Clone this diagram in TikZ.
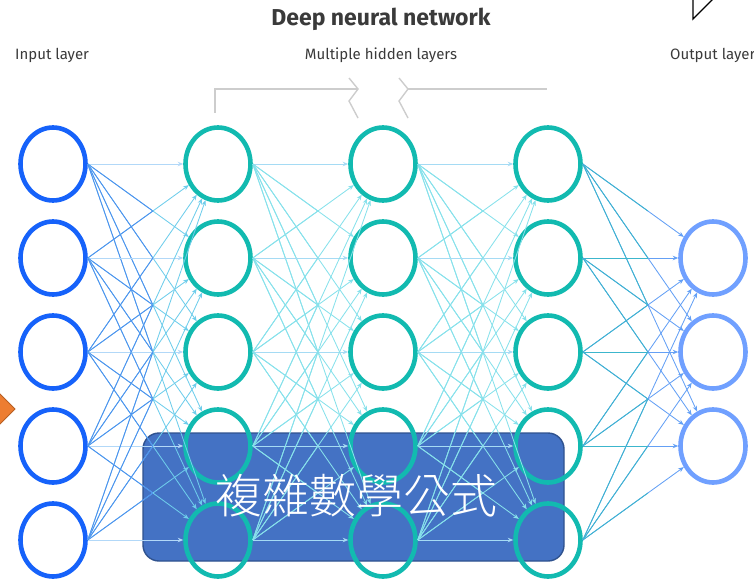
\documentclass[tikz,border=0pt]{standalone}
\usepackage{fontspec}
\setmainfont{Fira Sans}
\newfontfamily\cjk{Noto Sans CJK TC}[UprightFont={* Light}]
\usetikzlibrary{shapes.geometric,arrows.meta,calc}

\definecolor{inblue}{RGB}{22,98,250}
\definecolor{hidteal}{RGB}{18,186,176}
\definecolor{outblue}{RGB}{112,160,255}
\definecolor{edgeA}{RGB}{78,142,240}
\definecolor{edgeAt}{RGB}{110,205,235}
\definecolor{edgeB}{RGB}{135,225,235}
\definecolor{edgeC}{RGB}{60,182,205}
\definecolor{edgeCt}{RGB}{100,160,245}
\definecolor{straight}{RGB}{178,216,248}
\definecolor{labelgray}{RGB}{58,58,58}
\definecolor{bracketgray}{RGB}{205,205,205}
\definecolor{boxblue}{RGB}{68,114,196}
\definecolor{boxedge}{RGB}{47,82,143}
\definecolor{arroworange}{RGB}{237,125,49}
\definecolor{arrowedge}{RGB}{184,95,34}

\tikzset{
  neuron/.style={ellipse, minimum width=65pt, minimum height=73pt, inner sep=0pt, line width=4.6pt},
  inneuron/.style={neuron, draw=inblue},
  hidneuron/.style={neuron, draw=hidteal},
  outneuron/.style={neuron, draw=outblue},
  edge/.style={line width=0.85pt},
  tip/.style={-{Stealth[length=5.5pt,width=4.5pt]}},
  caption/.style={text=labelgray, font=\fontsize{15}{16}\selectfont, inner sep=0pt},
  formulabox/.style={draw=boxedge, fill=boxblue, line width=1.4pt, rounded corners=16pt,
    minimum width=421pt, minimum height=128pt, inner sep=0pt},
  bracket/.style={draw=bracketgray, line width=1.4pt},
}

% edge from source east point to target, two-tone to suggest a colour fade
\newcommand\netedge[4]{%
  \draw[edge,#4,tip] (#1.east) -- (#2);
  \draw[edge,#3] (#1.east) -- ($(#1.east)!0.5!(#2)$);
}

\begin{document}
\begin{tikzpicture}[x=1pt,y=-1pt]
\useasboundingbox (0,0) rectangle (754,583);
\clip (0,0) rectangle (754,583);

% formula box behind the network
\node[formulabox] (formula) at (353.5,497) {};

% neurons
\foreach \r/\y in {1/164,2/258,3/352,4/446,5/540} {
  \node[inneuron]  (i\r) at (53,\y) {};
  \node[hidneuron] (a\r) at (218,\y) {};
  \node[hidneuron] (b\r) at (383,\y) {};
  \node[hidneuron] (c\r) at (548,\y) {};
}
\foreach \r/\y in {1/258,2/352,3/446} {
  \node[outneuron] (o\r) at (713,\y) {};
}

% connections
\foreach \s in {1,...,5} {
  \foreach \t in {1,...,5} {
    \ifnum\s=\t
      \netedge{i\s}{a\t}{straight}{straight}
      \netedge{a\s}{b\t}{straight!70!edgeB}{straight!70!edgeB}
      \netedge{b\s}{c\t}{straight!70!edgeB}{straight!70!edgeB}
    \else
      \netedge{i\s}{a\t}{edgeA}{edgeAt}
      \netedge{a\s}{b\t}{edgeB}{edgeB}
      \netedge{b\s}{c\t}{edgeB}{edgeB}
    \fi
  }
  \foreach \t in {1,2,3} {
    \netedge{c\s}{o\t}{edgeC}{edgeCt}
  }
}

% titles and layer captions
\node[text=labelgray, font=\bfseries\fontsize{23}{25}\selectfont, inner sep=0pt] (title) at (381,19) {Deep neural network};
\node[caption, anchor=west] (inlabel) at (15,55) {Input layer};
\node[caption] (hidlabel) at (381,55) {Multiple hidden layers};
\node[caption, anchor=west] (outlabel) at (670,55) {Output layer};

% bracket over the hidden layers, with break marks
\draw[bracket] (215,113) -- (215,89) -- (358,89);
\draw[bracket] (349,78) -- (358,89) -- (349,101) -- (358,118);
\draw[bracket] (399,78) -- (408,89) -- (399,101) -- (408,118);
\draw[bracket] (408,89) -- (547,89);

% orange pointer at the left edge
\draw[fill=arroworange, draw=arrowedge, line width=1pt] (-2,392) -- (15,409) -- (-2,426) -- cycle;

% open triangle at the top right
\draw[line width=1.3pt, line join=miter] (714,-2) -- (693,19) -- (693,-2);

% formula caption
\node[text=white, font=\cjk\fontsize{47}{52}\selectfont, inner sep=0pt] (formulatext) at (356,496) {複雜數學公式};
\end{tikzpicture}
\end{document}
